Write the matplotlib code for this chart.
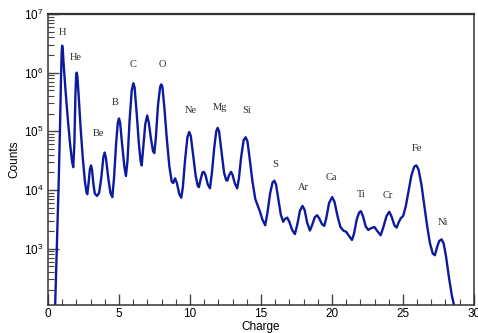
import numpy as np
import matplotlib
matplotlib.use('Agg')
import matplotlib.pyplot as plt
from matplotlib.ticker import MultipleLocator, LogLocator, NullFormatter

# charge spectrum: charge, log10(counts)
charge = [0.50, 0.62, 0.75, 0.85, 0.92, 0.97, 1.00, 1.04, 1.10, 1.25, 1.40, 1.55, 1.70, 1.78,
          1.86, 1.93, 1.98, 2.02, 2.07, 2.15, 2.30, 2.45, 2.60, 2.72, 2.77, 2.85, 2.95, 3.03,
          3.10, 3.20, 3.30, 3.45, 3.60, 3.75, 3.90, 3.99, 4.08, 4.25, 4.40, 4.53, 4.65, 4.80,
          4.92, 5.00, 5.08, 5.22, 5.38, 5.49, 5.60, 5.75, 5.90, 6.01, 6.10, 6.25, 6.40, 6.52,
          6.60, 6.70, 6.85, 6.99, 7.10, 7.25, 7.40, 7.49, 7.60, 7.75, 7.90, 7.98, 8.06, 8.20,
          8.36, 8.55, 8.72, 8.82, 8.95, 9.08, 9.25, 9.39, 9.50, 9.65, 9.82, 9.95, 10.06, 10.20,
          10.40, 10.55, 10.63, 10.75, 10.88, 10.99, 11.10, 11.25, 11.41, 11.55, 11.70, 11.85,
          11.95, 12.05, 12.20, 12.40, 12.55, 12.63, 12.75, 12.89, 13.00, 13.15, 13.33, 13.45,
          13.60, 13.78, 13.92, 14.05, 14.20, 14.40, 14.60, 14.81, 14.95, 15.10, 15.30, 15.45,
          15.65, 15.82, 15.94, 16.06, 16.22, 16.40, 16.57, 16.70, 16.85, 17.00, 17.20, 17.39,
          17.55, 17.75, 17.93, 18.08, 18.25, 18.45, 18.60, 18.80, 18.96, 19.10, 19.30, 19.46,
          19.60, 19.80, 20.02, 20.18, 20.40, 20.60, 20.80, 21.00, 21.20, 21.41, 21.55, 21.75,
          21.92, 22.04, 22.18, 22.38, 22.56, 22.75, 22.99, 23.20, 23.43, 23.60, 23.85, 24.04,
          24.20, 24.40, 24.56, 24.70, 24.85, 25.02, 25.20, 25.40, 25.60, 25.80, 25.95, 26.10,
          26.30, 26.50, 26.70, 26.90, 27.10, 27.25, 27.40, 27.55, 27.73, 27.88, 28.05, 28.25,
          28.45, 28.60, 28.75]
log_counts = [2.00, 3.00, 4.10, 5.10, 5.95, 6.38, 6.46, 6.40, 6.15, 5.65, 5.20, 4.80, 4.48, 4.39,
              4.80, 5.60, 5.93, 6.00, 5.94, 5.65, 5.05, 4.55, 4.15, 3.95, 3.93, 4.10, 4.35, 4.42,
              4.35, 4.10, 3.94, 3.90, 3.95, 4.20, 4.56, 4.64, 4.55, 4.20, 3.95, 3.88, 4.20, 4.80,
              5.15, 5.22, 5.15, 4.78, 4.40, 4.24, 4.50, 5.20, 5.70, 5.82, 5.75, 5.30, 4.80, 4.50,
              4.42, 4.70, 5.12, 5.27, 5.15, 4.88, 4.66, 4.63, 4.90, 5.45, 5.76, 5.80, 5.76, 5.40,
              4.90, 4.40, 4.14, 4.12, 4.20, 4.12, 3.93, 3.87, 4.05, 4.50, 4.90, 4.99, 4.92, 4.65,
              4.25, 4.07, 4.05, 4.18, 4.30, 4.31, 4.25, 4.10, 4.03, 4.30, 4.70, 5.00,
              5.06, 5.00, 4.70, 4.30, 4.17, 4.16, 4.25, 4.31, 4.26, 4.12, 4.03, 4.20,
              4.55, 4.85, 4.90, 4.83, 4.55, 4.15, 3.85, 3.71, 3.62, 3.50, 3.40, 3.60,
              3.95, 4.13, 4.16, 4.10, 3.85, 3.58, 3.46, 3.51, 3.53, 3.46, 3.32, 3.25,
              3.40, 3.65, 3.73, 3.66, 3.45, 3.31, 3.40, 3.54, 3.57, 3.52, 3.42, 3.39,
              3.52, 3.78, 3.88, 3.80, 3.55, 3.37, 3.31, 3.29, 3.22, 3.15, 3.25, 3.50,
              3.62, 3.64, 3.56, 3.38, 3.32, 3.35, 3.37, 3.30, 3.23, 3.35, 3.56, 3.63,
              3.55, 3.40, 3.36, 3.45, 3.52, 3.56, 3.72, 3.98, 4.25, 4.40, 4.42, 4.35,
              4.10, 3.75, 3.40, 3.10, 2.92, 2.89, 3.02, 3.13, 3.16, 3.08, 2.85, 2.50,
              2.20, 2.04, 1.80]

elements = ["H", "He", "Be", "B", "C", "O", "Ne", "Mg", "Si", "S", "Ar", "Ca", "Ti", "Cr", "Fe", "Ni"]
label_x = [0.99, 1.97, 3.57, 4.72, 5.96, 8.08, 10.05, 12.11, 13.99, 15.99, 17.98, 19.98, 22.09, 23.97, 25.96, 27.84]
label_logy = [6.69, 6.26, 4.97, 5.49, 6.14, 6.14, 5.35, 5.40, 5.35, 4.44, 4.05, 4.21, 3.93, 3.91, 4.70, 3.44]

plt.rcParams['font.family'] = 'Liberation Sans'
plt.rcParams['mathtext.default'] = 'regular'

fig = plt.figure(figsize=(4.78, 3.33), dpi=100)
ax = fig.add_axes([0.1004, 0.084, 0.891, 0.874])

counts = [10 ** v for v in log_counts]
ax.plot(charge, counts, color='#0d1aa0', lw=1.7, solid_joinstyle='round')

for name, lx, ly in zip(elements, label_x, label_logy):
    ax.text(lx, 10 ** ly, name, ha='center', va='center', fontsize=7.5,
            family='Liberation Serif', color='#2a2a2a')

ax.set_yscale('log')
ax.set_xlim(0, 30)
ax.set_ylim(110, 1e7)

ax.xaxis.set_major_locator(MultipleLocator(5))
ax.xaxis.set_minor_locator(MultipleLocator(1))
ax.yaxis.set_major_locator(LogLocator(base=10, numticks=10))
ax.yaxis.set_minor_locator(LogLocator(base=10, subs=np.arange(2, 10), numticks=10))
ax.yaxis.set_minor_formatter(NullFormatter())

ax.tick_params(which='both', direction='in', top=False, right=False, labelsize=8.5, color='#444444')
ax.tick_params(which='major', length=8, width=1)
ax.tick_params(which='minor', length=4.5, width=0.8)
ax.tick_params(axis='x', pad=2)

for s in ax.spines.values():
    s.set_color('#333333')
    s.set_linewidth(1.1)
ax.spines['top'].set_linewidth(1.6)

ax.set_xlabel("Charge", fontsize=8.5, labelpad=1)
ax.set_ylabel("Counts", fontsize=8.5, labelpad=2)

plt.savefig("out.png", dpi=100)
